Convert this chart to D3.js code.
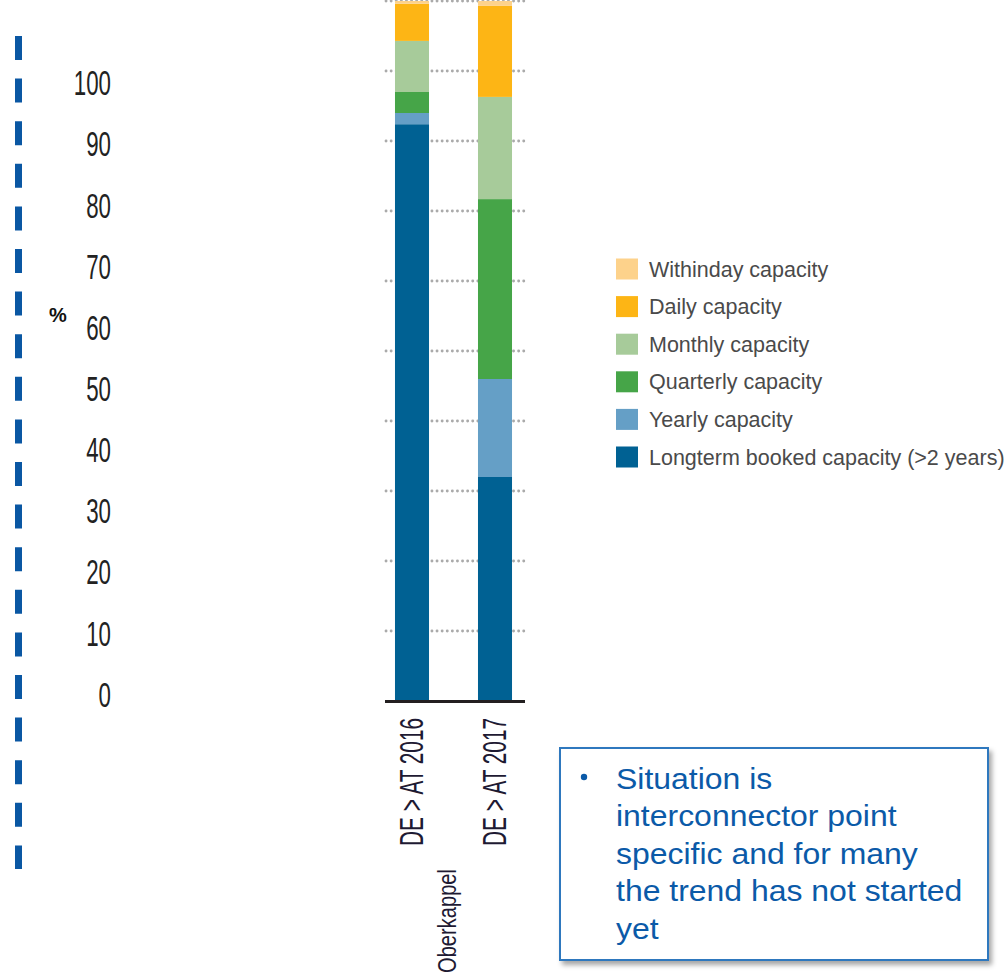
<!DOCTYPE html>
<html>
<head>
<meta charset="utf-8">
<script src="https://cdn.jsdelivr.net/npm/d3@7"></script>
<style>
  body { margin: 0; background: #fff; }
  svg { display: block; font-family: "Liberation Sans", Arial, sans-serif; }
</style>
</head>
<body>
<div class="chart"></div>
<script>
// data (percent of capacity)
var categories = ["DE > AT 2016", "DE > AT 2017"];
var seriesNames = ["Longterm booked capacity (>2 years)", "Yearly capacity", "Quarterly capacity",
                   "Monthly capacity", "Daily capacity", "Withinday capacity"];
var longterm  = [82.4, 32.0];
var yearly    = [1.6, 14.0];
var quarterly = [3.0, 25.7];
var monthly   = [7.3, 14.6];
var daily     = [5.3, 13.0];
var withinday = [0.4, 0.7];
var tickValues = [0, 10, 20, 30, 40, 50, 60, 70, 80, 90, 100];
var groupLabel = "Oberkappel";
var noteLines = ["Situation is", "interconnector point", "specific and for many",
                 "the trend has not started", "yet"];

var colors = ["#006193", "#659fc6", "#46a548", "#a7cb9a", "#fdb515", "#fdd28b"];
var values = [longterm, yearly, quarterly, monthly, daily, withinday];

var width = 1008, height = 977;

var svg = d3.select(".chart")
    .append("svg")
    .attr("width", width)
    .attr("height", height);

// drop shadow for the note box
var defs = svg.append("defs");
var f = defs.append("filter").attr("id", "shadow")
    .attr("x", "-10%").attr("y", "-10%").attr("width", "130%").attr("height", "130%");
f.append("feDropShadow").attr("dx", 3).attr("dy", 4).attr("stdDeviation", 2.5)
    .attr("flood-color", "#000").attr("flood-opacity", 0.35);

// dashed blue rule on the left
svg.append("line")
    .attr("x1", 18.5).attr("x2", 18.5)
    .attr("y1", 36).attr("y2", 869)
    .attr("stroke", "#0a57a3")
    .attr("stroke-width", 7)
    .attr("stroke-dasharray", "24,18.6");

// tick labels (they sit on their own scale in the original)
var yLabel = d3.scaleLinear().domain([0, 100]).range([695, 83.5]);
var labelAxis = svg.append("g")
    .attr("transform", "translate(111,0)")
    .call(d3.axisLeft(yLabel).tickValues(tickValues).tickSize(0).tickPadding(0));
labelAxis.select(".domain").remove();
labelAxis.selectAll("text")
    .attr("font-family", "'Liberation Sans', Arial, sans-serif")
    .attr("font-size", 35)
    .attr("fill", "#222")
    .attr("textLength", function(d) { return String(d).length * 12.4; })
    .attr("lengthAdjust", "spacingAndGlyphs");

svg.append("text")
    .attr("x", 49).attr("y", 322)
    .attr("font-size", 20).attr("font-weight", "bold")
    .attr("fill", "#111")
    .text("%");

// bar chart
var x = d3.scaleBand().domain(categories).range([370.5, 536.5])
    .paddingInner(0.59).paddingOuter(0.295);
var y = d3.scaleLinear().domain([0, 100]).range([701, 1]);

var grid = svg.append("g");
grid.selectAll("line")
    .data(y.ticks(10).filter(function(d) { return d > 0; }))
    .enter().append("line")
    .attr("x1", 386).attr("x2", 524)
    .attr("y1", function(d) { return y(d); })
    .attr("y2", function(d) { return y(d); })
    .attr("stroke", "#aaaaaa")
    .attr("stroke-width", 2.8)
    .attr("stroke-linecap", "round")
    .attr("stroke-dasharray", "0.1,5");

var table = categories.map(function(c, i) {
  var row = { cat: c };
  seriesNames.forEach(function(s, j) { row[s] = values[j][i]; });
  return row;
});
var stacked = d3.stack().keys(seriesNames)(table);

svg.append("g").selectAll("g")
    .data(stacked)
    .enter().append("g")
    .attr("fill", function(d, i) { return colors[i]; })
    .selectAll("rect")
    .data(function(d) { return d; })
    .enter().append("rect")
    .attr("x", function(d) { return x(d.data.cat); })
    .attr("width", x.bandwidth())
    .attr("y", function(d) { return y(d[1]); })
    .attr("height", function(d) { return y(d[0]) - y(d[1]); });

svg.append("line")
    .attr("x1", 385).attr("x2", 525)
    .attr("y1", 701.5).attr("y2", 701.5)
    .attr("stroke", "#231f20")
    .attr("stroke-width", 3);

// rotated category labels
svg.append("g").selectAll("text")
    .data(categories)
    .enter().append("text")
    .attr("transform", function(d) {
      return "translate(" + (x(d) + x.bandwidth() / 2 + 11) + ",718) rotate(-90)";
    })
    .attr("text-anchor", "end")
    .attr("font-size", 34)
    .attr("fill", "#1e1a33")
    .attr("textLength", 128)
    .attr("lengthAdjust", "spacingAndGlyphs")
    .text(function(d) { return d; });

svg.append("text")
    .attr("transform", "translate(" + ((x(categories[0]) + x(categories[1]) + x.bandwidth()) / 2 + 2.5) + ",869) rotate(-90)")
    .attr("text-anchor", "end")
    .attr("font-size", 26)
    .attr("fill", "#1e1a33")
    .attr("textLength", 104)
    .attr("lengthAdjust", "spacingAndGlyphs")
    .text(groupLabel);

// legend (top-down: withinday ... longterm)
var legendOrder = d3.range(seriesNames.length).reverse();
var ly = d3.scalePoint().domain(legendOrder).range([269, 457]);
var legend = svg.append("g").selectAll("g")
    .data(legendOrder)
    .enter().append("g")
    .attr("transform", function(d) { return "translate(616," + ly(d) + ")"; });
legend.append("rect")
    .attr("x", 0).attr("y", -10.5)
    .attr("width", 22).attr("height", 21)
    .attr("fill", function(d) { return colors[d]; });
legend.append("text")
    .attr("x", 33).attr("y", 7.5)
    .attr("font-size", 21.5)
    .attr("fill", "#4a4a4a")
    .text(function(d) { return seriesNames[d]; });

// note box
svg.append("rect")
    .attr("x", 560).attr("y", 748)
    .attr("width", 428).attr("height", 212)
    .attr("fill", "#fff")
    .attr("stroke", "#2e78be")
    .attr("stroke-width", 2)
    .attr("filter", "url(#shadow)");

svg.append("circle")
    .attr("cx", 584).attr("cy", 777).attr("r", 3.2)
    .attr("fill", "#0b5aa8");

svg.append("g")
    .attr("transform", "translate(616,0) scale(1.065,1)")
    .selectAll("text")
    .data(noteLines)
    .enter().append("text")
    .attr("x", 0)
    .attr("y", function(d, i) { return 789 + i * 37.5; })
    .attr("font-size", 30)
    .attr("fill", "#0b5aa8")
    .text(function(d) { return d; });
</script>
</body>
</html>
